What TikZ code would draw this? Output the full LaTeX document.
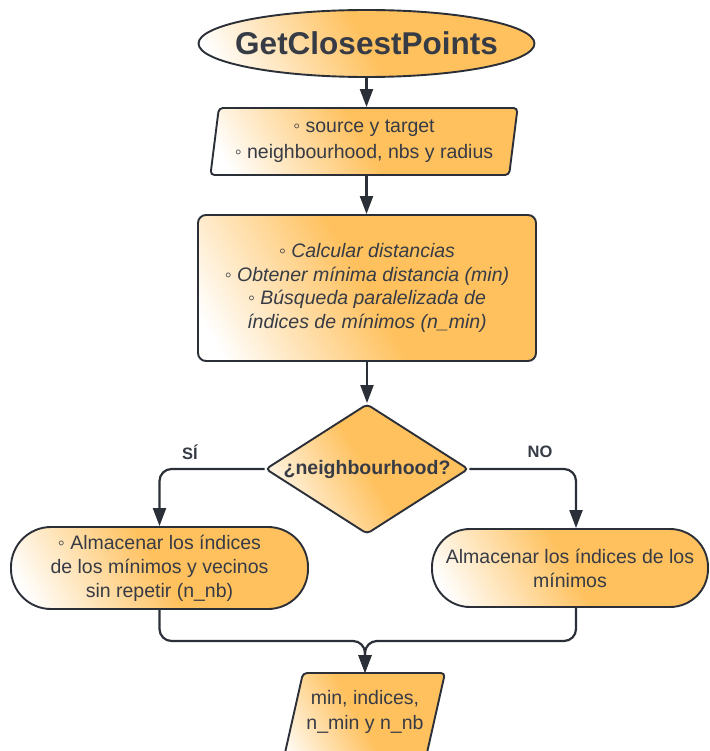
\documentclass[tikz,border=0pt]{standalone}
\usepackage{fontspec}
\setmainfont{Liberation Sans}
\usetikzlibrary{shapes.geometric,arrows.meta,calc}
\definecolor{ink}{HTML}{2B2F37}
\definecolor{txt}{HTML}{363B45}
\definecolor{amber}{HTML}{FFC15E}
% pale-to-amber fill used by every block
\pgfdeclarehorizontalshading{warm}{100bp}{color(0bp)=(white); color(20bp)=(white); color(50bp)=(amber); color(100bp)=(amber)}

\begin{document}
\begin{tikzpicture}[x=1pt,y=-1pt,
  blockfill/.style={draw=ink, line width=1.9pt, shade, shading=warm, shading angle=30},
  box/.style={blockfill, text=txt, font=\fontsize{19.5}{24}\selectfont, align=center, inner sep=0pt},
  flow/.style={draw=ink, line width=2.2pt, -{Triangle[length=18pt,width=13pt]}, rounded corners=12pt},
  lbl/.style={text=txt, font=\fontsize{16.5}{20}\selectfont\bfseries}
]
\useasboundingbox (0,0) rectangle (709,751);

% blocks
\node[box, ellipse, inner xsep=-12.5pt, inner ysep=0pt, minimum height=67pt,
  font=\fontsize{31.5}{36}\selectfont\bfseries] (start) at (366.5,43.5) {GetClosestPoints};

\node[box, trapezium, trapezium left angle=80, trapezium right angle=100,
  trapezium stretches=true, minimum width=308pt, minimum height=67pt,
  rounded corners=4pt, font=\fontsize{19.5}{26}\selectfont] (inp) at (364,141.5)
  {◦ source y target\\◦ neighbourhood, nbs y radius};

\node[box, rectangle, rounded corners=8pt, minimum width=338pt, minimum height=146pt,
  font=\fontsize{19.5}{23.5}\selectfont\itshape] (calc) at (367,288)
  {◦ Calcular distancias\\◦ Obtener mínima distancia (min)\\◦ Búsqueda paralelizada de\\índices de mínimos (n\_min)};

\node[box, diamond, aspect=1.56, minimum width=203pt, minimum height=130pt,
  rounded corners=4pt, font=\fontsize{19.5}{24}\selectfont\bfseries] (dec) at (367,469)
  {¿neighbourhood?};

\node[box, rectangle, rounded corners=40pt, minimum width=297pt, minimum height=82pt] (left) at (159.5,568)
  {◦ Almacenar los índices\\de los mínimos y vecinos\\sin repetir (n\_nb)};

\node[box, rectangle, rounded corners=38pt, minimum width=276pt, minimum height=78pt] (right) at (570,568)
  {Almacenar los índices de los\\mínimos};

% output block: a slanted box running past the lower edge
\path[blockfill, rounded corners=4pt] (303,673) -- (445,673) -- (422,775) -- (280,775) -- cycle;
\coordinate (outtop) at (365,673);
\node[text=txt, font=\fontsize{19.5}{25}\selectfont, align=center, inner sep=0pt] (out) at (365,712)
  {min, indices,\\n\_min y n\_nb};

% branch labels
\node[lbl] (si) at (190,452) {SÍ};
\node[lbl] (no) at (540,452) {NO};

% connectors
\coordinate (m) at (outtop |- 0,641);
\draw[flow] (start.south) -- (start.south |- inp.north);
\draw[flow] (start.south |- inp.south) -- (start.south |- calc.north);
\draw[flow] (calc.south) -- (dec.north);
\draw[flow] (dec.west) -| (left.north);
\draw[flow] (dec.east) -| ([xshift=6pt]right.north);
\draw[flow] (left.south) |- (m) -- (outtop);
\draw[flow] ([xshift=6pt]right.south) |- (m) -- (outtop);
\end{tikzpicture}
\end{document}
